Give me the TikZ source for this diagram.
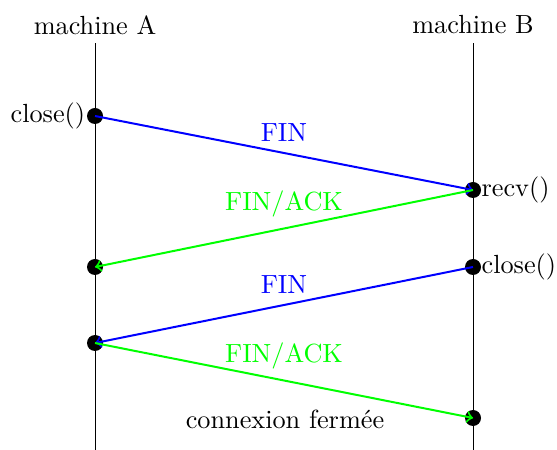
\documentclass[tikz,border=0pt]{standalone}
\begin{document}
\begin{tikzpicture}[x=0.4pt,y=-0.4pt,
  every node/.style={font=\fontsize{10.5}{12.6}\selectfont},
  dot/.style={circle,fill=black,inner sep=0pt,minimum size=6.4pt},
  msg/.style={thick,->}]
\useasboundingbox (0,0) rectangle (557,450);
\node (mA) at (95,25) {machine A};
\node (mB) at (473,25) {machine B};
\coordinate (endA) at (95,450);
\coordinate (endB) at (473,450);
\draw (mA.south) -- (endA);
\draw (mB.south) -- (endB);
\node[dot] (a1) at (95,116) {};
\node[dot] (a2) at (95,267) {};
\node[dot] (a3) at (95,343) {};
\node[dot] (b1) at (473,190) {};
\node[dot] (b2) at (473,267) {};
\node[dot] (b3) at (473,418) {};
\node[left=-3pt] at (a1.west) {close()};
\node[right=-3.5pt] at (b1.east) {recv()};
\node[right=-3.5pt] at (b2.east) {close()};
\node (cf) at (285,419) {connexion fermée};
\draw[msg,blue] (a1.center) -- node[above,yshift=1pt] {FIN} (b1.center);
\draw[msg,green] (b1.center) -- node[above,yshift=1pt] {FIN/ACK} (a2.center);
\draw[msg,blue] (b2.center) -- node[above,yshift=1pt] {FIN} (a3.center);
\draw[msg,green] (a3.center) -- node[above,yshift=1pt] {FIN/ACK} (b3.center);
\end{tikzpicture}
\end{document}
